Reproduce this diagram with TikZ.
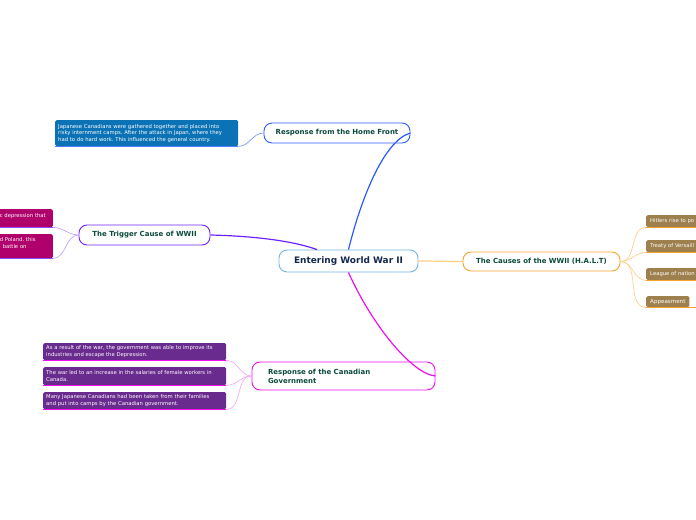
\documentclass[tikz,border=0pt]{standalone}
\usepackage{fontspec}
\setmainfont{DejaVu Sans}
\frenchspacing

\definecolor{centreblue}{HTML}{74B4E4}
\definecolor{navytext}{HTML}{14284F}
\definecolor{titlegreen}{HTML}{0C4A3C}
\definecolor{homeblue}{HTML}{2B5BFF}
\definecolor{homefill}{HTML}{0B72B5}
\definecolor{trigviolet}{HTML}{6E22FF}
\definecolor{triglight}{HTML}{B89CFF}
\definecolor{trigfill}{HTML}{B0006C}
\definecolor{causeorange}{HTML}{F6A22D}
\definecolor{causelight}{HTML}{FFCB80}
\definecolor{causefill}{HTML}{9E804F}
\definecolor{govmagenta}{HTML}{EE11EE}
\definecolor{govlight}{HTML}{F5A0F5}
\definecolor{govfill}{HTML}{6A2B8F}

\begin{document}
\begin{tikzpicture}[x=1bp,y=-1bp,
  topic/.style={draw,rounded corners=8bp,fill=white,line width=0.9bp,
    font=\bfseries\fontsize{7}{9}\selectfont,text=titlegreen,inner sep=0pt},
  note/.style={rounded corners=1.5bp,text=white,font=\fontsize{5.3}{6.4}\selectfont,
    align=left,inner xsep=3bp,inner ysep=2bp,anchor=north west},
  mainline/.style={line width=1.2bp},
  subline/.style={line width=0.6bp},
  underline/.style={line width=1.2bp}]

\useasboundingbox (0,0) rectangle (696,520);

% Central topic
\node[topic,draw=centreblue,minimum width=139bp,minimum height=22bp,
  font=\bfseries\fontsize{9}{10}\selectfont,text=navytext] (centre) at (348.5,261) {Entering World War II};

% ---- Response from the Home Front ----
\node[topic,draw=homeblue,minimum width=146bp,minimum height=20bp] (home) at (337,133) {Response from the Home Front};
\node[note,fill=homefill,text width=177bp,minimum height=26bp] (homenote) at (55,120)
  {Japanese Canadians were gathered together and placed into\\
   risky internment camps. After the attack in Japan, where they\\
   had to do hard work. This influenced the general country.};

% ---- The Trigger Cause ----
\node[topic,draw=trigviolet,minimum width=131bp,minimum height=20bp] (trigger) at (144.5,235) {The Trigger Cause of WWII};
\node[note,fill=trigfill,anchor=north east,text width=50bp,minimum height=18bp] (trigA) at (53,209)
  {c depression that\\\mbox{}};
\node[note,fill=trigfill,anchor=north east,text width=50bp,minimum height=24bp] (trigB) at (53,234)
  {d Poland. this\\\hspace*{3bp}battle on\\\mbox{}};

% ---- The Causes (H.A.L.T) ----
\node[topic,draw=causeorange,minimum width=157bp,minimum height=19bp] (causes) at (541.5,261.5) {The Causes of the WWII (H.A.L.T)};
\node[note,fill=causefill,text width=64bp,minimum height=12bp,inner xsep=4bp] (hitler) at (646,215) {Hitlers rise to po};
\node[note,fill=causefill,text width=64bp,minimum height=12bp,inner xsep=4bp] (treaty) at (646,240) {Treaty of Versaill};
\node[note,fill=causefill,text width=64bp,minimum height=12bp,inner xsep=4bp] (league) at (646,268) {League of nation};
\node[note,fill=causefill,minimum height=11bp,minimum width=43bp,inner xsep=4bp,font=\fontsize{5.6}{6.4}\selectfont] (appease) at (646,296) {Appeasment};

% ---- Response of the Canadian Government ----
\node[topic,draw=govmagenta,minimum width=183bp,minimum height=28bp,inner xsep=16bp,
  text width=151bp,align=left] (gov) at (343.5,376) {Response of the Canadian\\Government};
\node[note,fill=govfill,text width=177bp,minimum height=17bp] (govA) at (43,343)
  {As a result of the war, the government was able to improve its\\industries and escape the Depression.};
\node[note,fill=govfill,text width=177bp,minimum height=18bp] (govB) at (43,367)
  {The war led to an increase in the salaries of female workers in\\Canada.};
\node[note,fill=govfill,text width=177bp,minimum height=17bp] (govC) at (43,392)
  {Many Japanese Canadians had been taken from their families\\and put into camps by the Canadian government.};

% ---- Main branches ----
\draw[mainline,homeblue] (centre.north) .. controls (362,195) and (385,140) .. (home.east);
\draw[mainline,trigviolet] (trigger.east) .. controls (250,236) and (290,240) .. (centre.160);
\draw[mainline,causelight] (centre.east) to[out=0,in=180] (causes.west);
\draw[mainline,govmagenta] (centre.south) .. controls (372,325) and (412,374) .. (gov.east);

% ---- Sub branches ----
\draw[subline,homeblue!70] (home.west) to[out=180,in=0] (homenote.south east);
\foreach \n in {trigA,trigB}
  \draw[subline,triglight] (trigger.west) to[out=180,in=0] (\n.south east);
\foreach \n in {hitler,treaty,league,appease}
  \draw[subline,causelight] (causes.east) to[out=0,in=180] (\n.south west);
\foreach \n in {govA,govB,govC}
  \draw[subline,govlight] (gov.west) to[out=180,in=0] (\n.south east);

% ---- Underlines ----
\draw[underline,homeblue!80] (homenote.south west) -- (homenote.south east);
\foreach \n in {trigA,trigB}
  \draw[underline,trigviolet!80] (\n.south west) -- (\n.south east);
\foreach \n in {hitler,treaty,league}
  \draw[underline,causeorange] (\n.south west) -- (\n.south east);
\draw[underline,causeorange] (appease.south west) -- (appease.south east) -- ++(10,0);
\foreach \n in {govA,govB,govC}
  \draw[underline,govmagenta] (\n.south west) -- (\n.south east);

\end{tikzpicture}
\end{document}
